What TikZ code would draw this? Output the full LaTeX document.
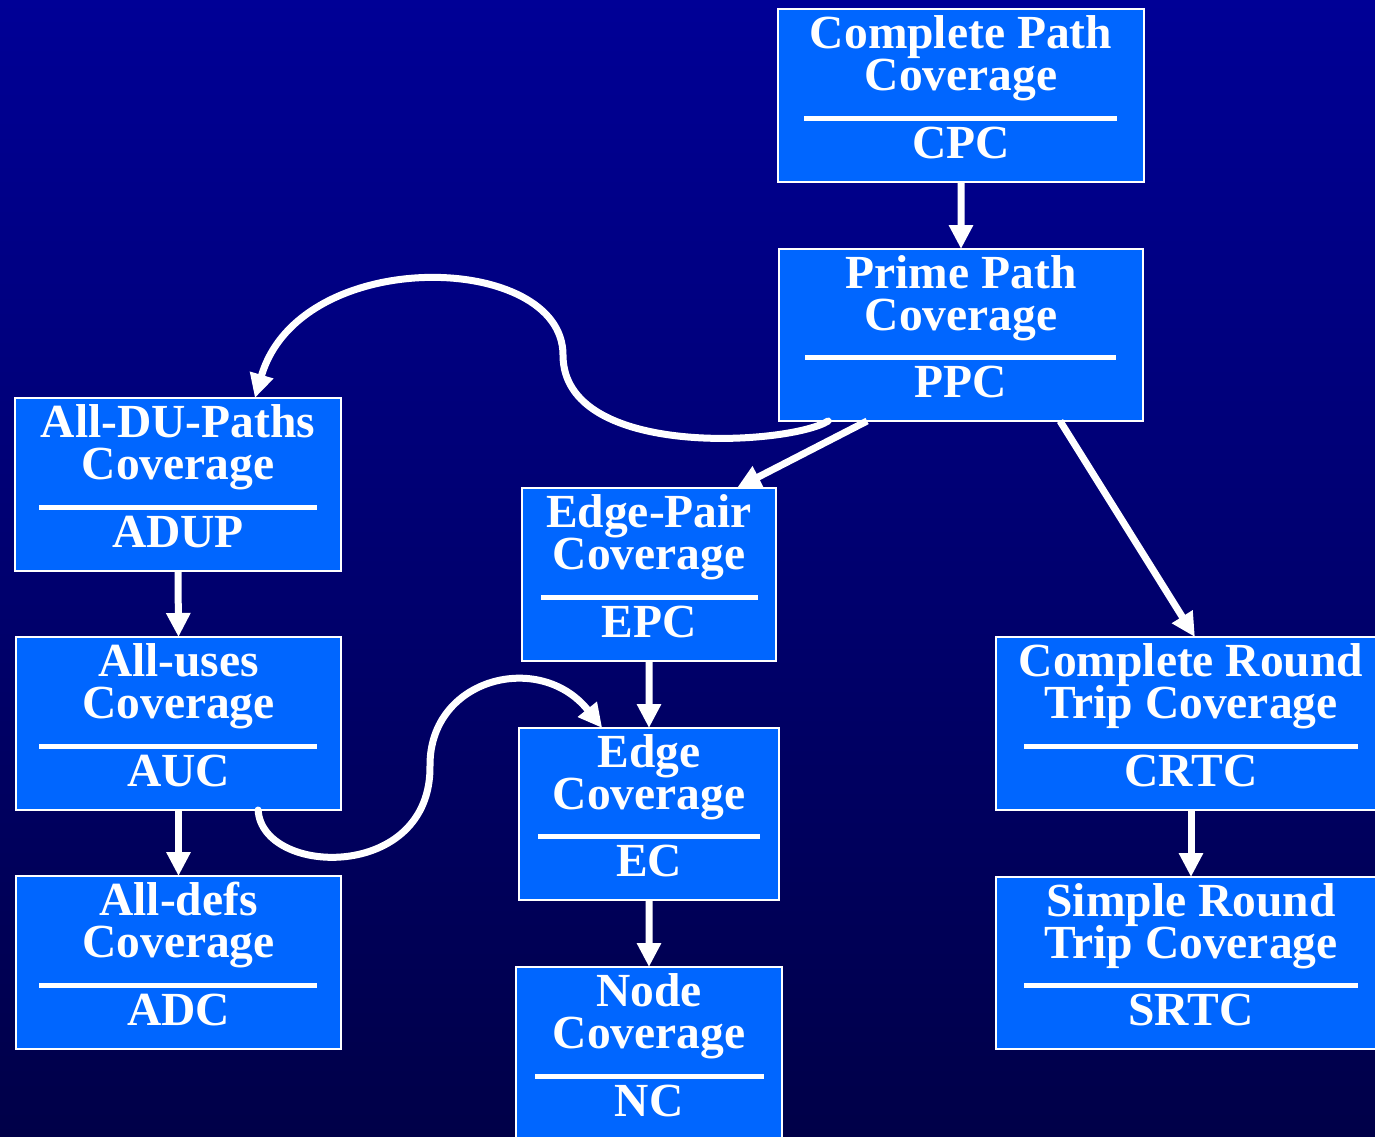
\documentclass[tikz,border=0pt]{standalone}
\usepackage{fontspec}
\setmainfont{Liberation Serif}
\usetikzlibrary{
    arrows.meta,
    calc,
    positioning
}
\definecolor{bgtop}{RGB}{0,0,150}
\definecolor{bgbot}{RGB}{0,0,72}
\definecolor{boxblue}{RGB}{0,102,255}

\begin{document}
\begin{tikzpicture}[x=1bp, y=-1bp,
    covbox/.style={draw=white, line width=2bp, fill=boxblue, anchor=north west, inner sep=0pt, outer sep=0pt, minimum height=173bp},
    covtext/.style={text=white, font=\fontsize{47.5bp}{42bp}\selectfont\bfseries, anchor=base, inner sep=0pt, text height=33bp, text depth=8bp},
    sepline/.style={white, line width=5bp},
    covarrow/.style={white, line width=7bp, -{Triangle[width=23bp,length=24bp]}}]
                        \useasboundingbox (0,0) rectangle (1375,1136);
                        \clip (0,0) rectangle (1375,1136);
                        \shade[top color=bgtop, bottom color=bgbot] (0,0) rectangle (1375,1136);
                        % right column
                        \begin{scope}[shift={(778,9)}]
                            \node[covbox, minimum width=366bp] (cpc) at (0,0) {};
                            \node[covtext] (cpc-a) at (183,39) {Complete Path};
                            \node[covtext] (cpc-b) at (183,81) {Coverage};
                            \draw[sepline] (26,109) -- (339,109);
                            \node[covtext] (cpc-c) at (183,149) {CPC};
                        \end{scope}
                        \begin{scope}[shift={(779,249)}]
                            \node[covbox, minimum width=364bp, minimum height=172bp] (ppc) at (0,0) {};
                            \node[covtext] (ppc-a) at (182,39) {Prime Path};
                            \node[covtext] (ppc-b) at (182,81) {Coverage};
                            \draw[sepline] (26,108) -- (337,108);
                            \node[covtext] (ppc-c) at (182,148) {PPC};
                        \end{scope}
                        \begin{scope}[shift={(996,637)}]
                            \node[covbox, minimum width=390bp] (crtc) at (0,0) {};
                            \node[covtext] (crtc-a) at (195,39) {Complete Round};
                            \node[covtext] (crtc-b) at (195,81) {Trip Coverage};
                            \draw[sepline] (28,109) -- (362,109);
                            \node[covtext] (crtc-c) at (195,149) {CRTC};
                        \end{scope}
                        \begin{scope}[shift={(996,877)}]
                            \node[covbox, minimum width=390bp, minimum height=172bp] (srtc) at (0,0) {};
                            \node[covtext] (srtc-a) at (195,39) {Simple Round};
                            \node[covtext] (srtc-b) at (195,81) {Trip Coverage};
                            \draw[sepline] (28,108) -- (362,108);
                            \node[covtext] (srtc-c) at (195,148) {SRTC};
                        \end{scope}
                        % left column
                        \begin{scope}[shift={(15,398)}]
                            \node[covbox, minimum width=326bp] (adup) at (0,0) {};
                            \node[covtext] (adup-a) at (163,39) {All-DU-Paths};
                            \node[covtext] (adup-b) at (163,81) {Coverage};
                            \draw[sepline] (24,109) -- (302,109);
                            \node[covtext] (adup-c) at (163,149) {ADUP};
                        \end{scope}
                        \begin{scope}[shift={(16,637)}]
                            \node[covbox, minimum width=325bp] (auc) at (0,0) {};
                            \node[covtext] (auc-a) at (162.5,39) {All-uses};
                            \node[covtext] (auc-b) at (162.5,81) {Coverage};
                            \draw[sepline] (23,109) -- (301,109);
                            \node[covtext] (auc-c) at (162.5,149) {AUC};
                        \end{scope}
                        \begin{scope}[shift={(16,876)}]
                            \node[covbox, minimum width=325bp] (adc) at (0,0) {};
                            \node[covtext] (adc-a) at (162.5,39) {All-defs};
                            \node[covtext] (adc-b) at (162.5,81) {Coverage};
                            \draw[sepline] (23,109) -- (301,109);
                            \node[covtext] (adc-c) at (162.5,149) {ADC};
                        \end{scope}
                        % middle column
                        \begin{scope}[shift={(522,488)}]
                            \node[covbox, minimum width=254bp] (epc) at (0,0) {};
                            \node[covtext] (epc-a) at (127,39) {Edge-Pair};
                            \node[covtext] (epc-b) at (127,81) {Coverage};
                            \draw[sepline] (19,109) -- (236,109);
                            \node[covtext] (epc-c) at (127,149) {EPC};
                        \end{scope}
                        \begin{scope}[shift={(519,728)}]
                            \node[covbox, minimum width=260bp, minimum height=172bp] (ec) at (0,0) {};
                            \node[covtext] (ec-a) at (130,39) {Edge};
                            \node[covtext] (ec-b) at (130,81) {Coverage};
                            \draw[sepline] (19,108) -- (241,108);
                            \node[covtext] (ec-c) at (130,148) {EC};
                        \end{scope}
                        \begin{scope}[shift={(516,967)}]
                            \node[covbox, minimum width=266bp] (nc) at (0,0) {};
                            \node[covtext] (nc-a) at (133,39) {Node};
                            \node[covtext] (nc-b) at (133,81) {Coverage};
                            \draw[sepline] (19,109) -- (248,109);
                            \node[covtext] (nc-c) at (133,149) {NC};
                        \end{scope}
                        % subsumption arrows
                        \draw[covarrow] (cpc.south) -- (ppc.north);
                        \draw[covarrow] (adup.south) -- (auc.north);
                        \draw[covarrow] (auc.south) -- (adc.north);
                        \draw[covarrow] (epc.south) -- (ec.north);
                        \draw[covarrow] (ec.south) -- (nc.north);
                        \draw[covarrow] (crtc.south) -- (srtc.north);
                        \draw[covarrow] ($(ppc.south west)!0.242!(ppc.south east)$) -- ($(epc.north west)!0.846!(epc.north east)$);
                        \draw[covarrow] ($(ppc.south west)!0.772!(ppc.south east)$) -- ($(crtc.north west)!0.51!(crtc.north east)$);
                        \draw[covarrow, line cap=round]
                        ($(ppc.south west)!0.135!(ppc.south east)$) .. controls (790,445) and (563,460) .. (563,355)
                        .. controls (563,252) and (300,244) .. ($(adup.north west)!0.736!(adup.north east)$);
                        \draw[covarrow, line cap=round]
                        ($(auc.south west)!0.745!(auc.south east)$) .. controls (262,877) and (432,882) .. (430,765)
                        .. controls (430,678) and (540,650) .. ($(ec.north west)!0.32!(ec.north east)$);
                    \end{tikzpicture}
\end{document}
